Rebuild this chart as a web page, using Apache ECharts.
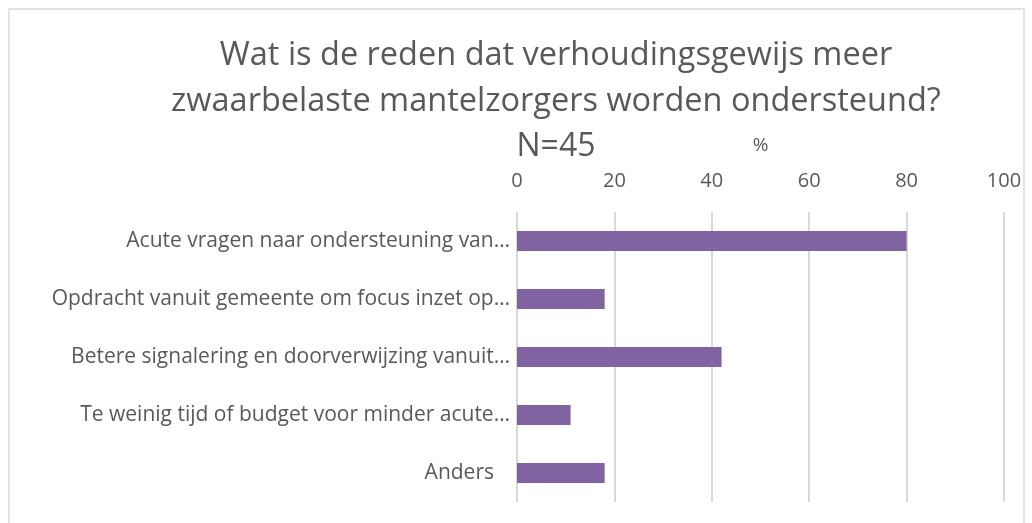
<!DOCTYPE html>
<html>
<head>
<meta charset="utf-8">
<script src="https://cdn.jsdelivr.net/npm/echarts@6/dist/echarts.min.js"></script>
<style>
  html, body { margin: 0; padding: 0; background: #fff; }
  #chart { width: 1032px; height: 523px; }
</style>
</head>
<body>
<div id="chart"></div>
<script>
// categorieen (van boven naar beneden) en percentages
let categories = [
    'Acute vragen naar ondersteuning van…',
    'Opdracht vanuit gemeente om focus inzet op…',
    'Betere signalering en doorverwijzing vanuit…',
    'Te weinig tijd of budget voor minder acute…',
    'Anders'
];
let percentages = [80, 18, 42, 11, 18];
let titleLines = ['Wat is de reden dat verhoudingsgewijs meer', 'zwaarbelaste mantelzorgers worden ondersteund?'];
let subTitle = 'N=45';

let textColor = '#595959';
let fontFam = '"Open Sans", sans-serif';

let chart = echarts.init(document.getElementById('chart'));

const option = {
    animation: false,
    title: [
        {
            text: titleLines.join('\n'),
            left: 551,
            top: 28,
            textAlign: 'center',
            textStyle: {
                color: textColor,
                fontFamily: fontFam,
                fontSize: 32.5,
                fontWeight: 'normal',
                lineHeight: 46
            }
        },
        {
            text: subTitle,
            left: 551,
            top: 121,
            textAlign: 'center',
            textStyle: {
                color: textColor,
                fontFamily: fontFam,
                fontSize: 32,
                fontWeight: 'normal',
                lineHeight: 41
            }
        }
    ],
    graphic: [
        {
            type: 'rect',
            shape: {x: 9, y: 9, width: 1015, height: 530},
            style: {fill: 'none', stroke: '#d9d9d9', lineWidth: 1.5},
            silent: true
        }
    ],
    grid: {
        left: 517,
        right: 28,
        top: 212,
        bottom: 21,
        containLabel: false
    },
    xAxis: {
        type: 'value',
        position: 'top',
        min: 0,
        max: 100,
        interval: 20,
        name: '%',
        nameLocation: 'middle',
        nameGap: 57,
        nameTextStyle: {color: textColor, fontFamily: fontFam, fontSize: 19},
        axisLine: {show: false},
        axisTick: {show: false},
        axisLabel: {color: textColor, fontFamily: fontFam, fontSize: 20, margin: 21},
        splitLine: {lineStyle: {color: '#d9d9d9', width: 2}}
    },
    yAxis: {
        type: 'category',
        inverse: true,
        data: categories,
        axisLine: {show: false},
        axisTick: {show: false},
        axisLabel: {
            color: textColor,
            fontFamily: fontFam,
            fontSize: 21,
            margin: 7,
            formatter: function (v) {
                return v === 'Anders' ? '{pad|' + v + '}' : v;
            },
            rich: {
                pad: {color: textColor, fontFamily: fontFam, fontSize: 21, padding: [0, 16, 0, 0]}
            }
        }
    },
    series: [
        {
            type: 'bar',
            data: percentages,
            barWidth: 20,
            itemStyle: {color: '#8064A2'}
        }
    ]
};
chart.setOption(option);
</script>
</body>
</html>
